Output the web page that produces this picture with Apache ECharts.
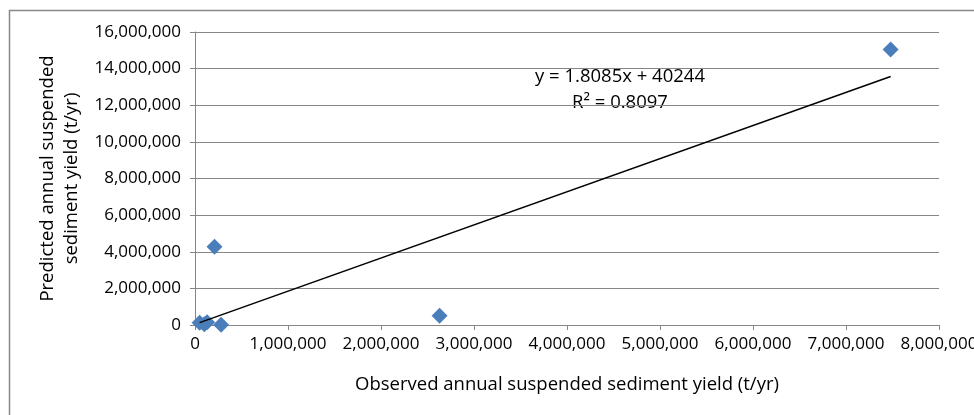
<!DOCTYPE html>
<html><head><meta charset="utf-8">
<script src="https://cdn.jsdelivr.net/npm/echarts@6/dist/echarts.min.js"></script>
<style>html,body{margin:0;padding:0;background:#fff}#c{width:974px;height:415px}</style>
</head><body><div id="c"></div>
<script>
const observed = [7480000, 2630000, 210000, 50000, 100000, 130000, 280000];
const predicted = [15050000, 500000, 4270000, 120000, 40000, 150000, 20000];
const slope = 1.8085, intercept = 40244, r2 = 0.8097;
const xTicks = [0, 1000000, 2000000, 3000000, 4000000, 5000000, 6000000, 7000000, 8000000];
const yTicks = [0, 2000000, 4000000, 6000000, 8000000, 10000000, 12000000, 14000000, 16000000];

const xMin = Math.min(...observed), xMax = Math.max(...observed);
const trend = [[xMin, slope * xMin + intercept], [xMax, slope * xMax + intercept]];
const fmt = v => v.toLocaleString('en-US');
const font = '"Open Sans", sans-serif';
const chart = echarts.init(document.getElementById('c'));
chart.setOption({
  animation: false,
  grid: {left: 195, right: 35, top: 32, bottom: 90, containLabel: false, outerBoundsMode: 'none'},
  xAxis: {
    type: 'value', min: xTicks[0], max: xTicks[xTicks.length - 1], interval: 1000000,
    name: 'Observed annual suspended sediment yield (t/yr)', nameLocation: 'middle', nameGap: 50,
    nameTextStyle: {fontFamily: font, fontSize: 18.5, color: '#000'},
    axisLine: {lineStyle: {color: '#868686'}},
    axisTick: {show: true, length: 5, lineStyle: {color: '#868686'}},
    axisLabel: {formatter: fmt, fontFamily: font, fontSize: 17, color: '#000', margin: 11},
    splitLine: {show: false}
  },
  yAxis: {
    type: 'value', min: yTicks[0], max: yTicks[yTicks.length - 1], interval: 2000000,
    name: 'Predicted annual suspended\nsediment yield (t/yr)', nameLocation: 'middle', nameGap: 111,
    nameTextStyle: {fontFamily: font, fontSize: 18.5, color: '#000', lineHeight: 24},
    axisLine: {show: true, lineStyle: {color: '#868686'}},
    axisTick: {show: true, length: 5, lineStyle: {color: '#868686'}},
    axisLabel: {formatter: fmt, fontFamily: font, fontSize: 17, color: '#000', margin: 14},
    splitLine: {show: true, lineStyle: {color: '#868686', width: 1}}
  },
  series: [
    {type: 'line', data: trend, symbol: 'none', lineStyle: {color: '#000', width: 1.5}, z: 3},
    {type: 'scatter', data: observed.map((x, i) => [x, predicted[i]]), symbol: 'diamond', symbolSize: 16,
     itemStyle: {color: '#4A7EBB', opacity: 1}, z: 2}
  ],
  graphic: [
    {type: 'rect', shape: {x: 9.5, y: 10.5, width: 980, height: 420}, style: {fill: null, stroke: '#888', lineWidth: 1.5}, silent: true},
    {type: 'text', x: 620, y: 77, style: {text: 'y = ' + slope + 'x + ' + intercept, font: '18.5px ' + font, fill: '#000', textAlign: 'center', textVerticalAlign: 'middle'}},
    {type: 'text', x: 620, y: 103, style: {text: 'R² = ' + r2, font: '18.5px ' + font, fill: '#000', textAlign: 'center', textVerticalAlign: 'middle'}}
  ]
});
</script></body></html>
